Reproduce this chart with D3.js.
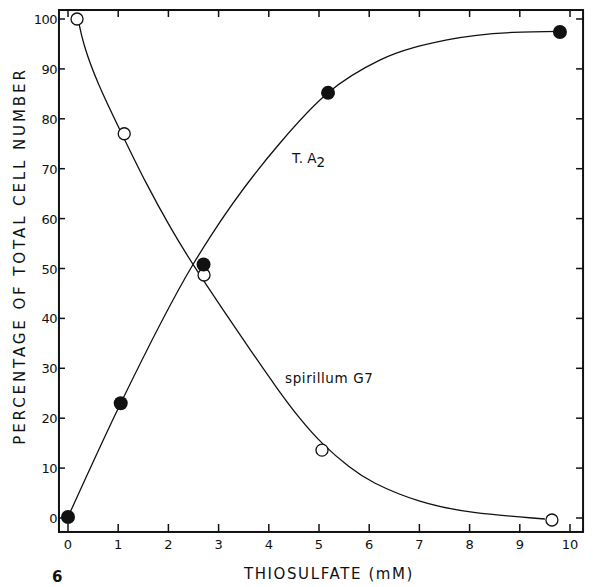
<!DOCTYPE html>
<html>
<head>
<meta charset="utf-8">
<script src="https://cdn.jsdelivr.net/npm/d3@7"></script>
<style>
  body { margin: 0; background: #fff; }
  svg { display: block; }
  text { font-family: "DejaVu Sans", sans-serif; fill: #111; }
</style>
</head>
<body>
<svg id="canvas" width="594" height="587"></svg>
<script>
// measured points
let thiosulfate = [0, 1.05, 2.7, 5.18, 9.8];
let ta2Values = [0.2, 23, 50.8, 85.2, 97.4];

let g7Thiosulfate = [0.18, 1.12, 2.71, 5.06, 9.64];
let g7Values = [100, 77, 48.7, 13.6, -0.4];

// hand-drawn fitted curves
let ta2FitX = [0, 1.05, 2.49, 2.83, 4.22, 5.18, 6.22, 7.55, 8.86, 9.8];
let ta2FitY = [0.2, 23, 50.8, 56.3, 75.1, 85.2, 91.8, 95.8, 97.3, 97.5];

let g7FitX = [0.2, 0.3, 0.58, 1.08, 1.55, 2.03, 2.49, 3.09, 3.63, 4.16, 4.62, 5.08, 5.62, 6.02, 7.01, 8.0, 9.5];
let g7FitY = [100, 95, 87.2, 76.8, 67.1, 58.3, 50.7, 41.7, 33.7, 26.0, 19.8, 14.6, 10.0, 7.2, 3.0, 1.0, -0.2];

let xTicks = [0, 1, 2, 3, 4, 5, 6, 7, 8, 9, 10];
let yTicks = [0, 10, 20, 30, 40, 50, 60, 70, 80, 90, 100];

let canvas = d3.select('#canvas');

let xScale = d3.scaleLinear().domain([0, 10]).range([68, 570]);
let yScale = d3.scaleLinear().domain([0, 100]).range([518, 19]);

// frame edges (data units)
let xLo = -0.18, xHi = 10.26, yLo = -2.8, yHi = 101.8;

let frameL = xScale(xLo), frameR = xScale(xHi);
let frameT = yScale(yHi), frameB = yScale(yLo);

canvas.append('rect')
    .attr('x', frameL)
    .attr('y', frameT)
    .attr('width', frameR - frameL)
    .attr('height', frameB - frameT)
    .attr('fill', 'none')
    .attr('stroke', '#111')
    .attr('stroke-width', 2);

// ticks on all four sides, pointing in
let tickG = canvas.append('g').attr('stroke', '#111').attr('stroke-width', 1.5);

xTicks.forEach((t) => {
    tickG.append('line')
        .attr('x1', xScale(t)).attr('x2', xScale(t))
        .attr('y1', frameB).attr('y2', frameB - 8);
    tickG.append('line')
        .attr('x1', xScale(t)).attr('x2', xScale(t))
        .attr('y1', frameT).attr('y2', frameT + 7);
});

yTicks.forEach((t) => {
    tickG.append('line')
        .attr('x1', frameL - 1).attr('x2', frameL + 6)
        .attr('y1', yScale(t)).attr('y2', yScale(t));
    tickG.append('line')
        .attr('x1', frameR).attr('x2', frameR - 7)
        .attr('y1', yScale(t)).attr('y2', yScale(t));
});

canvas.selectAll('.xlab')
    .data(xTicks)
    .enter()
    .append('text')
    .attr('class', 'xlab')
    .attr('x', (d) => xScale(d))
    .attr('y', frameB + 17)
    .attr('text-anchor', 'middle')
    .attr('font-size', 13)
    .text((d) => d);

canvas.selectAll('.ylab')
    .data(yTicks)
    .enter()
    .append('text')
    .attr('class', 'ylab')
    .attr('x', frameL - 2)
    .attr('y', (d) => yScale(d) + 5)
    .attr('text-anchor', 'end')
    .attr('font-size', 13)
    .attr('letter-spacing', -0.5)
    .text((d) => d);

// curves
let ta2Line = d3.line()
    .x((d) => xScale(d[0]))
    .y((d) => yScale(d[1]))
    .curve(d3.curveMonotoneX);

let g7Line = d3.line()
    .x((d) => xScale(d[0]))
    .y((d) => yScale(d[1]))
    .curve(d3.curveBasis);

canvas.append('path')
    .datum(ta2FitX.map((x, i) => [x, ta2FitY[i]]))
    .attr('d', ta2Line)
    .attr('fill', 'none')
    .attr('stroke', '#111')
    .attr('stroke-width', 1.3);

canvas.append('path')
    .datum(g7FitX.map((x, i) => [x, g7FitY[i]]))
    .attr('d', g7Line)
    .attr('fill', 'none')
    .attr('stroke', '#111')
    .attr('stroke-width', 1.3);

// points
canvas.selectAll('.open')
    .data(g7Thiosulfate.map((x, i) => [x, g7Values[i]]))
    .enter()
    .append('circle')
    .attr('class', 'open')
    .attr('cx', (d) => xScale(d[0]))
    .attr('cy', (d) => yScale(d[1]))
    .attr('r', 6)
    .attr('fill', '#fff')
    .attr('stroke', '#111')
    .attr('stroke-width', 1.3);

canvas.selectAll('.filled')
    .data(thiosulfate.map((x, i) => [x, ta2Values[i]]))
    .enter()
    .append('circle')
    .attr('class', 'filled')
    .attr('cx', (d) => xScale(d[0]))
    .attr('cy', (d) => yScale(d[1]))
    .attr('r', 7)
    .attr('fill', '#111');

// curve labels
let ta2Label = canvas.append('text')
    .attr('x', 292)
    .attr('y', 163)
    .attr('font-size', 13.5);
ta2Label.append('tspan').text('T. A');
ta2Label.append('tspan').attr('dy', 4).text('2');

canvas.append('text')
    .attr('x', 285)
    .attr('y', 383)
    .attr('font-size', 13.5)
    .attr('letter-spacing', 0.6)
    .text('spirillum G7');

// axis titles
canvas.append('text')
    .attr('x', 329)
    .attr('y', 579)
    .attr('text-anchor', 'middle')
    .attr('font-size', 15)
    .attr('letter-spacing', 1.6)
    .text('THIOSULFATE (mM)');

canvas.append('text')
    .attr('transform', 'translate(25,256) rotate(-90)')
    .attr('text-anchor', 'middle')
    .attr('font-size', 15)
    .attr('letter-spacing', 2.9)
    .text('PERCENTAGE OF TOTAL CELL NUMBER');

canvas.append('text')
    .attr('x', 52)
    .attr('y', 582)
    .attr('font-size', 15)
    .attr('font-weight', 'bold')
    .text('6');
</script>
</body>
</html>
